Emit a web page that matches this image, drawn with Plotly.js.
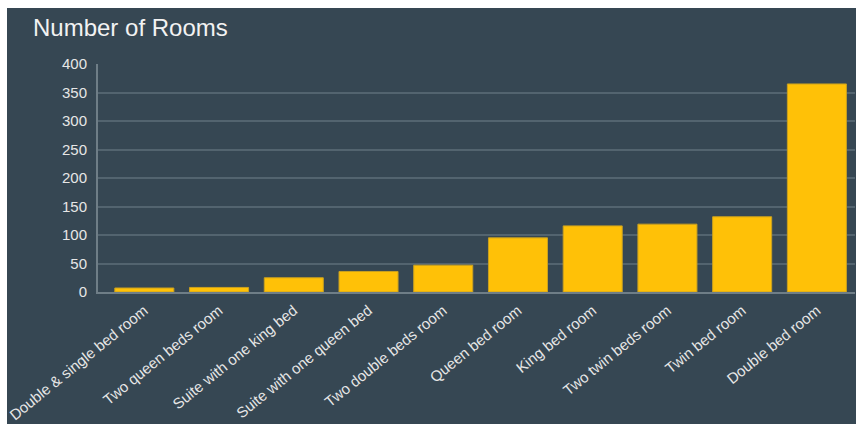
<!DOCTYPE html>
<html>
<head>
<meta charset="utf-8">
<script src="https://cdn.plot.ly/plotly-3.0.1.min.js"></script>
<style>
  html, body { margin: 0; padding: 0; background: #ffffff; }
  #chart { position: absolute; left: 7px; top: 8px; width: 849px; height: 416px; }
</style>
</head>
<body>
<div id="chart"></div>
<script>
const roomTypes = [
  "Double & single bed room",
  "Two queen beds room",
  "Suite with one king bed",
  "Suite with one queen bed",
  "Two double beds room",
  "Queen bed room",
  "King bed room",
  "Two twin beds room",
  "Twin bed room",
  "Double bed room"
];
const roomCounts = [7, 8, 25, 36, 47, 95, 116, 119, 132, 365];
const yTicks = [0, 50, 100, 150, 200, 250, 300, 350, 400];

const trace = {
  type: "bar",
  x: roomTypes,
  y: roomCounts,
  marker: { color: "#FFC107", line: { color: "#C9A020", width: 1 } },
  hoverinfo: "x+y"
};

const layout = {
  width: 849,
  height: 416,
  paper_bgcolor: "#364753",
  plot_bgcolor: "#364753",
  margin: { l: 91, r: 1, t: 56, b: 132 },
  title: {
    text: "Number of Rooms",
    x: 0, xref: "container", xanchor: "left",
    y: 1, yref: "container", yanchor: "top",
    pad: { l: 26, t: 11 },
    font: { family: "Liberation Sans, Arial, sans-serif", size: 24, color: "#f2f2f2" }
  },
  bargap: 0.21,
  showlegend: false,
  xaxis: {
    type: "category",
    range: [-0.62, 9.51],
    tickangle: -39,
    showline: true,
    linecolor: "#6f7e87",
    linewidth: 2,
    showgrid: false,
    ticks: "",
    ticklabelstandoff: 2,
    tickfont: { family: "Liberation Sans, Arial, sans-serif", size: 15, color: "#e6e6e6" }
  },
  yaxis: {
    range: [0, 400],
    tickvals: yTicks,
    ticktext: yTicks.map(String),
    showline: true,
    linecolor: "#6f7e87",
    linewidth: 2,
    showgrid: true,
    gridcolor: "#53646f",
    gridwidth: 2,
    zeroline: false,
    ticks: "",
    ticklabelstandoff: 6,
    tickfont: { family: "Liberation Sans, Arial, sans-serif", size: 15, color: "#e6e6e6" }
  }
};

Plotly.newPlot("chart", [trace], layout, { displayModeBar: false, staticPlot: true });
</script>
</body>
</html>
